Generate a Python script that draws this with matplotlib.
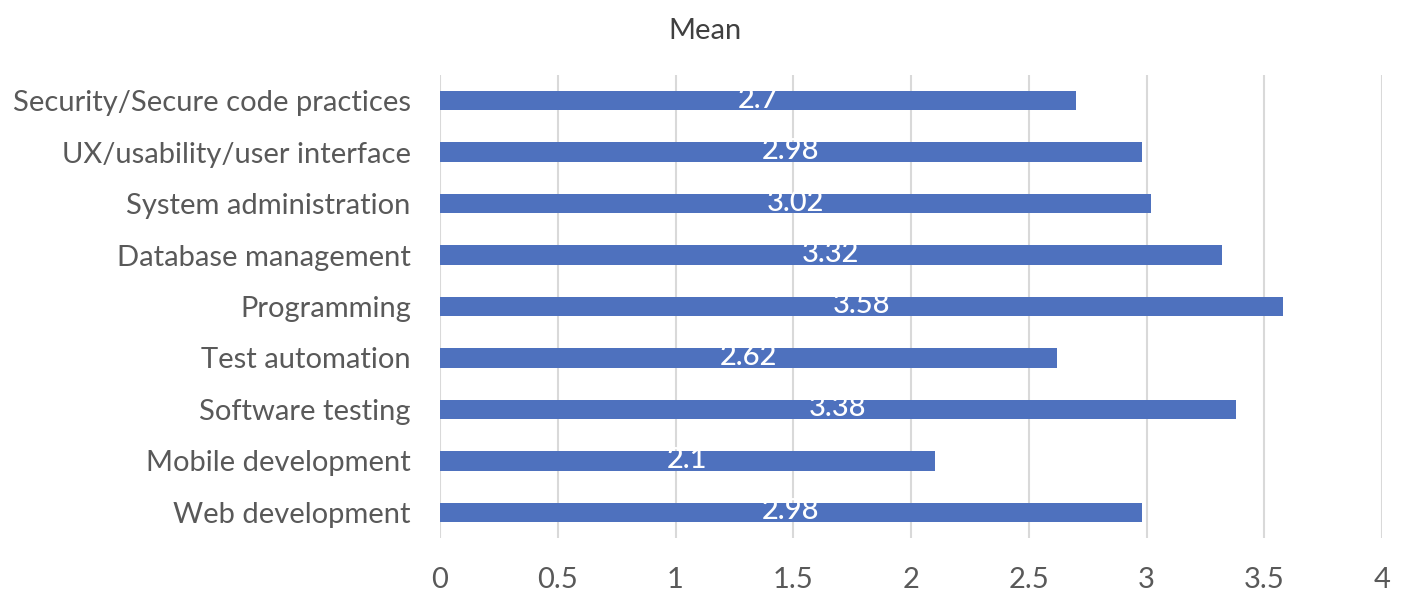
import matplotlib
matplotlib.use("Agg")
import matplotlib.pyplot as plt

categories = ["Web development", "Mobile development", "Software testing",
              "Test automation", "Programming", "Database management",
              "System administration", "UX/usability/user interface",
              "Security/Secure code practices"]
means = [2.98, 2.1, 3.38, 2.62, 3.58, 3.32, 3.02, 2.98, 2.7]
value_labels = ["2.98", "2.1", "3.38", "2.62", "3.58", "3.32", "3.02", "2.98", "2.7"]
xticks = [0, 0.5, 1, 1.5, 2, 2.5, 3, 3.5, 4]
xtick_labels = ["0", "0.5", "1", "1.5", "2", "2.5", "3", "3.5", "4"]

plt.rcParams['font.family'] = ['Lato', 'DejaVu Sans']

W, H = 1410, 606
fig = plt.figure(figsize=(W/100, H/100), dpi=100)
ax = fig.add_axes([440/W, 1-538/H, (1382-440)/W, (538-75)/H])

y = list(range(len(categories)))
ax.barh(y, means, height=0.38, color="#4E71BE", zorder=3)
for yi, v, lab in zip(y, means, value_labels):
    ax.text(v/2, yi + 0.02, lab, ha="center", va="center", color="white",
            fontsize=21, fontweight="medium", zorder=4)

ax.set_xlim(0, 4)
ax.set_ylim(-0.5, len(categories)-0.5)
ax.set_xticks(xticks)
ax.set_xticklabels(xtick_labels)
ax.set_yticks(y)
ax.set_yticklabels(categories)
ax.tick_params(axis="both", length=0, labelsize=21, colors="#595959")
ax.tick_params(axis="x", pad=21)
ax.tick_params(axis="y", pad=21)
ax.grid(axis="x", color="#d9d9d9", linewidth=1.5, zorder=0)
for s in ax.spines.values():
    s.set_visible(False)

fig.text(705/W, 1-31/H, "Mean", ha="center", va="center", fontsize=21, color="#404040")

fig.savefig("out.png", dpi=100)
